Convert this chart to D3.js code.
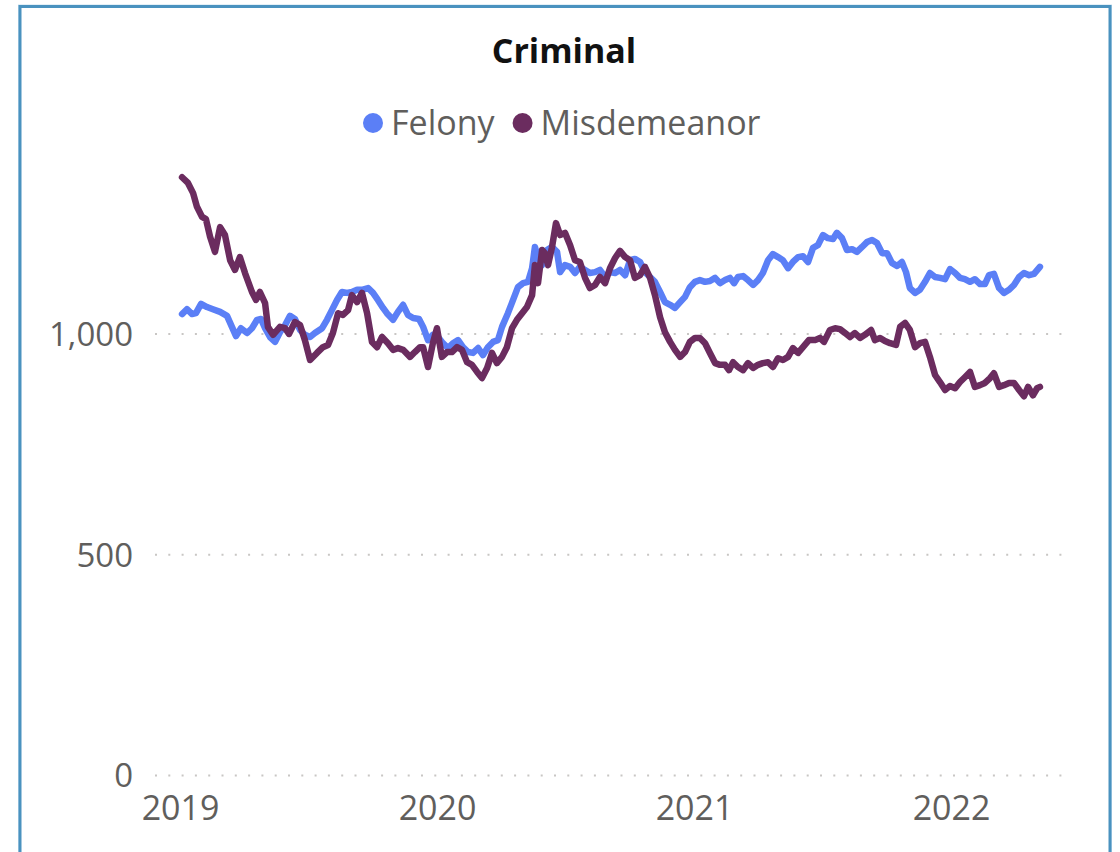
<!DOCTYPE html>
<html>
<head>
<meta charset="utf-8">
<script src="https://cdn.jsdelivr.net/npm/d3@7"></script>
<style>
  html, body { margin: 0; padding: 0; background: #fff; }
  svg { display: block; }
</style>
</head>
<body>
<svg id="chart" width="1120" height="852"></svg>
<script>
// ---- Data (time as decimal year) ----
const title = "Criminal";
const seriesNames = ["Felony", "Misdemeanor"];
const yearTicks = [2019, 2020, 2021, 2022];
const valueTicks = [0, 500, 1000];

const felonyT = [0.008,0.027,0.047,0.062,0.082,0.105,0.128,0.156,0.183,0.202,0.218,0.237,0.261,0.280,0.300,0.315,0.331,0.350,0.370,0.389,0.409,0.428,0.447,0.467,0.486,0.506,0.525,0.553,0.572,0.591,0.611,0.630,0.650,0.669,0.689,0.708,0.732,0.751,0.770,0.790,0.805,0.829,0.848,0.868,0.887,0.907,0.930,0.946,0.965,0.984,1.004,1.023,1.043,1.062,1.082,1.101,1.121,1.140,1.160,1.179,1.198,1.218,1.237,1.253,1.276,1.296,1.315,1.335,1.354,1.370,1.381,1.393,1.409,1.428,1.447,1.467,1.479,1.498,1.518,1.537,1.556,1.576,1.595,1.615,1.634,1.654,1.673,1.693,1.712,1.732,1.751,1.770,1.790,1.809,1.829,1.848,1.868,1.887,1.907,1.926,1.946,1.965,1.984,2.004,2.023,2.043,2.062,2.082,2.101,2.121,2.140,2.156,2.171,2.191,2.210,2.230,2.249,2.268,2.288,2.307,2.327,2.346,2.366,2.385,2.405,2.424,2.444,2.463,2.482,2.502,2.521,2.541,2.556,2.576,2.595,2.615,2.634,2.654,2.673,2.693,2.712,2.732,2.751,2.770,2.790,2.809,2.825,2.840,2.860,2.879,2.899,2.918,2.938,2.957,2.977,2.996,3.016,3.035,3.054,3.074,3.093,3.113,3.132,3.148,3.167,3.187,3.206,3.226,3.245,3.265,3.284,3.304,3.323,3.346];
const felonyV = [1044,1055,1044,1046,1067,1060,1055,1049,1040,1015,994,1012,1001,1012,1031,1033,1012,992,981,1003,1019,1040,1033,1008,997,992,1001,1012,1031,1053,1076,1094,1092,1094,1099,1099,1103,1092,1076,1058,1046,1031,1049,1065,1042,1035,1033,1015,985,997,992,978,967,978,985,969,958,956,967,951,969,981,985,1015,1046,1076,1105,1114,1117,1148,1196,1171,1155,1189,1196,1185,1139,1155,1151,1137,1151,1144,1137,1139,1144,1128,1139,1137,1144,1132,1166,1169,1162,1139,1128,1117,1094,1071,1065,1058,1071,1083,1105,1117,1121,1117,1119,1126,1114,1121,1126,1114,1128,1130,1121,1110,1121,1137,1166,1180,1173,1166,1148,1162,1173,1175,1162,1194,1200,1223,1216,1214,1228,1216,1189,1191,1185,1196,1207,1212,1205,1182,1182,1160,1153,1162,1139,1103,1092,1099,1117,1137,1128,1126,1123,1146,1137,1126,1123,1117,1123,1112,1112,1132,1135,1103,1092,1099,1110,1128,1137,1132,1135,1151];

const misdT = [0.008,0.031,0.051,0.066,0.086,0.101,0.117,0.136,0.156,0.175,0.195,0.214,0.233,0.253,0.280,0.296,0.311,0.331,0.342,0.362,0.389,0.409,0.424,0.447,0.467,0.486,0.506,0.533,0.556,0.576,0.595,0.615,0.634,0.654,0.669,0.689,0.708,0.728,0.747,0.767,0.786,0.809,0.829,0.848,0.868,0.895,0.914,0.934,0.946,0.965,0.984,1.000,1.019,1.039,1.058,1.078,1.097,1.117,1.136,1.156,1.175,1.195,1.214,1.233,1.253,1.272,1.292,1.311,1.331,1.350,1.370,1.381,1.393,1.409,1.420,1.432,1.447,1.463,1.479,1.498,1.518,1.537,1.556,1.576,1.595,1.615,1.634,1.654,1.673,1.693,1.712,1.732,1.751,1.770,1.790,1.809,1.829,1.848,1.868,1.887,1.907,1.926,1.946,1.965,1.984,2.004,2.023,2.043,2.062,2.082,2.101,2.121,2.136,2.152,2.171,2.191,2.210,2.230,2.249,2.268,2.288,2.307,2.327,2.346,2.366,2.385,2.405,2.424,2.447,2.471,2.490,2.506,2.529,2.549,2.568,2.588,2.607,2.626,2.646,2.665,2.689,2.704,2.724,2.743,2.763,2.786,2.802,2.821,2.840,2.860,2.879,2.899,2.918,2.938,2.957,2.977,2.996,3.016,3.035,3.054,3.074,3.093,3.113,3.132,3.152,3.167,3.187,3.206,3.226,3.245,3.265,3.284,3.300,3.319,3.335,3.346];
const misdV = [1354,1341,1318,1287,1264,1259,1219,1185,1241,1223,1166,1144,1173,1137,1094,1076,1094,1069,1015,997,1015,1012,999,1026,1019,985,940,956,969,974,1001,1046,1042,1053,1087,1071,1092,1046,981,969,992,978,963,967,963,947,958,969,969,924,978,1012,947,958,958,969,963,935,929,913,899,922,956,933,947,969,1012,1031,1046,1060,1087,1155,1114,1189,1182,1155,1194,1250,1223,1228,1200,1166,1162,1126,1103,1110,1128,1114,1148,1171,1187,1173,1166,1126,1132,1151,1126,1087,1037,1003,981,963,947,958,981,990,990,978,956,933,929,929,917,935,924,917,933,922,929,933,935,924,944,940,947,967,956,969,985,985,990,981,1008,1012,1010,1001,992,1001,990,997,1008,985,990,983,978,974,1015,1024,1008,969,978,981,947,906,890,872,881,876,890,901,913,879,883,888,899,910,879,883,888,888,872,858,879,860,876,879];

const colors = ["#5b7ff6", "#6b2c5f"];
const baseYear = 2019;

// ---- Drawing ----
const svg = d3.select("#chart");
const W = 1120, H = 852;
const FONT = "'Open Sans', 'Segoe UI', sans-serif";

svg.append("rect").attr("width", W).attr("height", H).attr("fill", "#fff");

// frame
svg.append("rect")
  .attr("x", 18.5).attr("y", 5).attr("width", 1093).attr("height", 900)
  .attr("fill", "none").attr("stroke", "#c9e1f0").attr("stroke-width", 1);
svg.append("rect")
  .attr("x", 20).attr("y", 6.5).attr("width", 1090).attr("height", 900)
  .attr("fill", "none").attr("stroke", "#4a92bf").attr("stroke-width", 3);

const x = d3.scaleLinear().domain([2019, 2022]).range([180, 951]);
const y = d3.scaleLinear().domain([0, 1000]).range([775, 333.5]);
const gridLeft = 155, gridRight = 1062;

// y axis with dotted gridlines
const yAxis = d3.axisLeft(y).tickValues(valueTicks).tickFormat(d3.format(","))
  .tickSizeInner(-(gridRight - gridLeft)).tickSizeOuter(0).tickPadding(22);
const gy = svg.append("g").attr("transform", `translate(${gridLeft},0)`).call(yAxis);
gy.select(".domain").remove();
gy.selectAll(".tick line").attr("stroke", "#c8c6c4").attr("stroke-width", 2)
  .attr("stroke-dasharray", "2,11.3");
gy.selectAll(".tick text").attr("font-family", FONT).attr("font-size", 33)
  .attr("fill", "#605e5c").attr("dy", "0.36em");

// x axis
const xAxis = d3.axisBottom(x).tickValues(yearTicks).tickFormat(d3.format("d"))
  .tickSize(0).tickPadding(21);
const gx = svg.append("g").attr("transform", `translate(0,${y(0)})`).call(xAxis);
gx.select(".domain").remove();
gx.selectAll(".tick text").attr("font-family", FONT).attr("font-size", 34)
  .attr("fill", "#605e5c");

// lines
const line = d3.line().x(d => x(d[0])).y(d => y(d[1])).curve(d3.curveLinear);
const series = [
  felonyT.map((t, i) => [baseYear + t, felonyV[i]]),
  misdT.map((t, i) => [baseYear + t, misdV[i]])
];
series.forEach((s, i) => {
  svg.append("path").datum(s)
    .attr("d", line)
    .attr("fill", "none")
    .attr("stroke", colors[i])
    .attr("stroke-width", 6.5)
    .attr("stroke-linejoin", "round")
    .attr("stroke-linecap", "round");
});

// title
svg.append("text").attr("x", 564).attr("y", 63)
  .attr("text-anchor", "middle").attr("font-family", FONT)
  .attr("font-weight", "bold").attr("font-size", 34).attr("fill", "#111")
  .text(title);

// legend
const lg = svg.append("g");
let lx = 363;
seriesNames.forEach((name, i) => {
  lg.append("circle").attr("cx", lx + 10).attr("cy", 123).attr("r", 10).attr("fill", colors[i]);
  const t = lg.append("text").attr("x", lx + 28).attr("y", 135)
    .attr("font-family", FONT).attr("font-size", 34).attr("fill", "#605e5c").text(name);
  lx = lx + 28 + t.node().getComputedTextLength() + 18;
});
</script>
</body>
</html>
